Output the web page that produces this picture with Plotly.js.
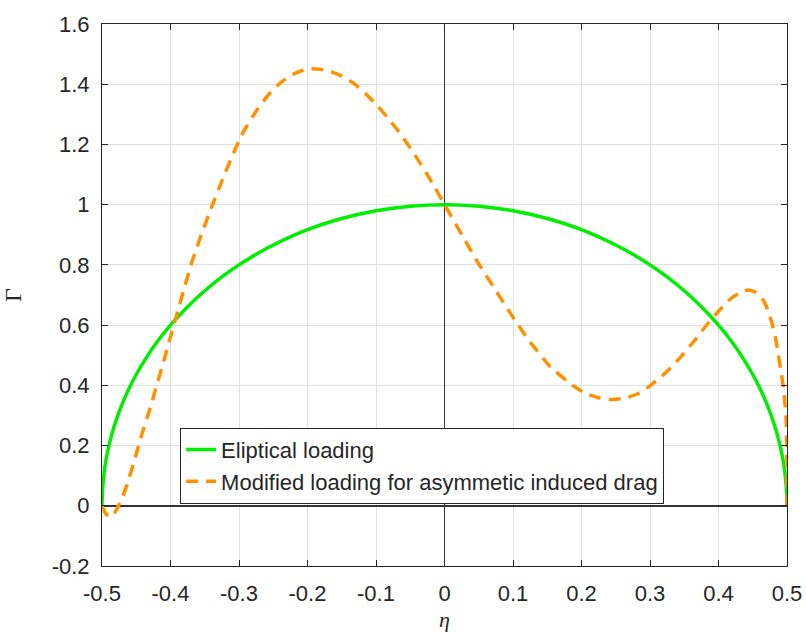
<!DOCTYPE html>
<html>
<head>
<meta charset="utf-8">
<script src="https://cdn.plot.ly/plotly-3.0.1.min.js"></script>
<style>html,body{margin:0;padding:0;background:#fff;}#chart{width:806px;height:632px;}</style>
</head>
<body>
<div id="chart"></div>
<script>
// Elliptical loading
const etaElliptic = [-0.5, -0.4995, -0.499, -0.497, -0.495, -0.49, -0.485, -0.48, -0.47, -0.46, -0.45, -0.435, -0.42, -0.4, -0.375, -0.35, -0.325, -0.3, -0.275, -0.25, -0.2, -0.15, -0.1, -0.05, 0,
  0.05, 0.1, 0.15, 0.2, 0.25, 0.275, 0.3, 0.325, 0.35, 0.375, 0.4, 0.42, 0.435, 0.45, 0.46, 0.47, 0.48, 0.485, 0.49, 0.495, 0.497, 0.499, 0.4995, 0.5];
const gammaElliptic = [0, 0.045, 0.063, 0.109, 0.141, 0.199, 0.243, 0.28, 0.341, 0.392, 0.436, 0.493, 0.543, 0.6, 0.661, 0.714, 0.76, 0.8, 0.835, 0.866, 0.917, 0.954, 0.98, 0.995, 1,
  0.995, 0.98, 0.954, 0.917, 0.866, 0.835, 0.8, 0.76, 0.714, 0.661, 0.6, 0.543, 0.493, 0.436, 0.392, 0.341, 0.28, 0.243, 0.199, 0.141, 0.109, 0.063, 0.045, 0];

// Modified loading for asymmetric induced drag
const etaModified = [-0.5, -0.495, -0.488, -0.482, -0.476, -0.47, -0.464, -0.452, -0.442, -0.43, -0.42, -0.41, -0.401, -0.391, -0.38, -0.369, -0.355, -0.34, -0.325, -0.311, -0.296, -0.274, -0.257, -0.24, -0.225, -0.211, -0.197, -0.182, -0.167, -0.15, -0.133, -0.115, -0.097, -0.084, -0.07, -0.055, -0.041, -0.026, -0.014, 0,
  0.0076, 0.027, 0.049, 0.074, 0.098, 0.122, 0.154, 0.188, 0.207, 0.227, 0.245, 0.264, 0.283, 0.3, 0.322, 0.344, 0.368, 0.385, 0.402, 0.418, 0.434, 0.4435, 0.455, 0.465, 0.472, 0.478, 0.483, 0.487, 0.491, 0.4946, 0.4985, 0.4995, 0.5, 0.5];
const gammaModified = [0, -0.025, -0.038, -0.025, 0, 0.03, 0.066, 0.156, 0.236, 0.322, 0.401, 0.48, 0.553, 0.634, 0.722, 0.808, 0.9, 0.992, 1.079, 1.155, 1.232, 1.314, 1.365, 1.404, 1.428, 1.443, 1.451, 1.45, 1.443, 1.427, 1.404, 1.368, 1.326, 1.292, 1.252, 1.205, 1.157, 1.103, 1.057, 1.0,
  0.97, 0.893, 0.807, 0.718, 0.633, 0.553, 0.463, 0.398, 0.372, 0.358, 0.353, 0.358, 0.373, 0.398, 0.44, 0.492, 0.557, 0.607, 0.651, 0.688, 0.711, 0.717, 0.708, 0.684, 0.65, 0.607, 0.56, 0.507, 0.45, 0.396, 0.297, 0.2, 0.1, 0];

const seriesNames = ["Eliptical loading", "Modified loading for asymmetic induced drag"];
const xTicks = [-0.5, -0.4, -0.3, -0.2, -0.1, 0, 0.1, 0.2, 0.3, 0.4, 0.5];
const xTickText = ["-0.5", "-0.4", "-0.3", "-0.2", "-0.1", "0", "0.1", "0.2", "0.3", "0.4", "0.5"];
const yTicks = [-0.2, 0, 0.2, 0.4, 0.6, 0.8, 1, 1.2, 1.4, 1.6];
const yTickText = ["-0.2", "0", "0.2", "0.4", "0.6", "0.8", "1", "1.2", "1.4", "1.6"];

const traces = [
  {x: etaElliptic, y: gammaElliptic, name: seriesNames[0], mode: "lines", type: "scatter",
   line: {color: "#00ee00", width: 3.5, shape: "spline", smoothing: 0.5}},
  {x: etaModified, y: gammaModified, name: seriesNames[1], mode: "lines", type: "scatter",
   line: {color: "#ff9100", width: 3.5, dash: "12px,8px", shape: "spline", smoothing: 0.5}}
];

const axisCommon = {
  showline: true, linecolor: "#262626", linewidth: 1, mirror: "ticks",
  ticks: "inside", ticklen: 6, tickcolor: "#262626", tickwidth: 1,
  showgrid: true, gridcolor: "#e0e0e0", gridwidth: 1,
  zeroline: true, zerolinecolor: "#333333", zerolinewidth: 1.5,
  tickfont: {family: "Liberation Sans, Arial, sans-serif", size: 22, color: "#262626"},
  tickmode: "array"
};

const layout = {
  width: 806, height: 632,
  margin: {l: 102, r: 19, t: 24, b: 66},
  paper_bgcolor: "#ffffff", plot_bgcolor: "#ffffff",
  showlegend: true,
  xaxis: Object.assign({}, axisCommon, {
    range: [-0.5, 0.5], tickvals: xTicks, ticktext: xTickText, ticklabelstandoff: 8,
    title: {text: "<i>η</i>", font: {family: "Liberation Serif, Times New Roman, serif", size: 22, color: "#262626"}, standoff: 6}
  }),
  yaxis: Object.assign({}, axisCommon, {
    range: [-0.2, 1.6], tickvals: yTicks, ticktext: yTickText, ticklabelstandoff: 7,
    title: {text: "Γ", font: {family: "Liberation Serif, Times New Roman, serif", size: 24, color: "#262626"}, standoff: 24}
  }),
  legend: {
    x: 0.114, y: 0.255, xanchor: "left", yanchor: "top",
    bgcolor: "#ffffff", bordercolor: "#262626", borderwidth: 1,
    font: {family: "Liberation Sans, Arial, sans-serif", size: 22, color: "#262626"},
    tracegroupgap: 0
  }
};

Plotly.newPlot("chart", traces, layout, {displayModeBar: false, staticPlot: true});
</script>
</body>
</html>
